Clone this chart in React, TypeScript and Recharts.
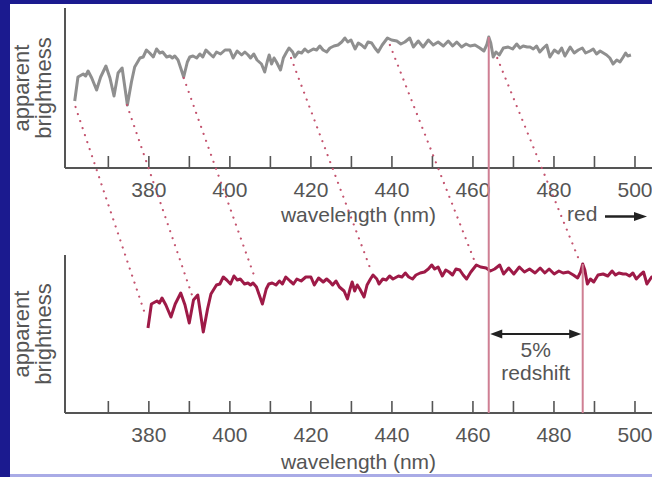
import React from "react";
import { LineChart, Line, XAxis, YAxis, Label, ReferenceLine } from "recharts";

// axis ticks (nm)
const TICKS_NM = [370, 380, 390, 400, 410, 420, 430, 440, 450, 460, 470, 480, 490, 500];
const LABELLED_NM = [380, 400, 420, 440, 460, 480, 500];
const X_DOMAIN: [number, number] = [359.3, 504.2];

// spectrum as seen in the top panel (nm, apparent brightness)
const EMITTED_NM = [
  361.7, 362.5, 363.8, 364.4, 365.0, 365.9, 367.1, 368.1, 369.4, 370.4, 371.4, 372.4, 373.4, 374.7,
  375.7, 376.5, 377.8, 378.6, 379.4, 380.2, 381.1, 381.9, 382.7, 383.4, 384.4, 385.2, 385.8, 386.4,
  387.2, 388.6, 389.5, 390.1, 390.9, 391.8, 392.6, 393.3, 394.1, 395.1, 395.9, 396.7, 397.7, 398.8,
  400.0, 400.8, 401.8, 402.9, 403.7, 404.5, 405.1, 405.9, 406.7, 407.8, 408.6, 409.2, 409.7, 410.3,
  410.9, 411.5, 412.5, 413.2, 414.0, 414.6, 415.5, 416.0, 416.9, 417.7, 418.5, 419.3, 420.6, 421.4,
  422.2, 423.0, 423.9, 424.7, 425.7, 426.7, 427.6, 428.4, 429.1, 429.9, 430.9, 431.7, 432.5, 433.3,
  434.1, 435.0, 435.8, 436.6, 437.6, 438.9, 439.9, 441.2, 442.2, 443.2, 444.4, 445.3, 446.5, 447.7,
  449.0, 450.2, 451.4, 452.7, 453.9, 455.0, 456.0, 457.2, 458.3, 459.3, 460.5, 461.7, 462.7, 463.4,
  463.9, 464.4, 465.0, 465.7, 466.5, 467.5, 468.7, 469.8, 470.8, 471.6, 472.4, 473.4, 474.1, 474.9,
  475.7, 476.5, 477.4, 478.2, 479.0, 480.1, 481.1, 481.9, 482.7, 484.0, 485.0, 486.0, 487.0, 487.8,
  488.9, 489.7, 490.5, 491.4, 492.2, 493.0, 493.8, 494.6, 495.5, 496.3, 497.1, 497.7, 498.2, 499.0,
];
const BRIGHTNESS = [
  67, 91, 94, 92, 97, 90, 78, 91, 102, 90, 72, 95, 100, 63,
  86, 101, 110, 111, 118, 115, 111, 119, 115, 116, 111, 112, 110, 112,
  108, 91, 106, 111, 112, 110, 114, 111, 118, 114, 111, 116, 114, 118,
  118, 110, 117, 113, 116, 113, 110, 114, 108, 104, 96, 106, 113, 104,
  110, 106, 98, 110, 116, 120, 116, 111, 116, 115, 119, 116, 119, 118,
  122, 118, 116, 120, 122, 123, 126, 130, 126, 128, 119, 125, 123, 120,
  126, 125, 120, 116, 123, 130, 128, 127, 124, 126, 130, 121, 127, 121,
  128, 123, 126, 122, 127, 122, 126, 121, 124, 122, 123, 120, 117, 123,
  131, 125, 111, 116, 113, 120, 121, 119, 124, 120, 122, 121, 121, 119,
  122, 116, 120, 123, 111, 118, 115, 120, 112, 121, 115, 118, 120, 115,
  117, 119, 114, 117, 115, 113, 110, 104, 108, 106, 111, 115, 112, 113,
];
const REDSHIFT = 0.05;

// dotted guides joining the same feature in both panels: [nm, brightness]
const GUIDE_TOP = [[361.9, 61], [374.6, 63], [388.6, 90], [415.1, 110], [439.5, 123], [466.0, 110]];
const GUIDE_BOTTOM = [[379.3, 78], [390.9, 97], [406.1, 118], [434.8, 125], [460.2, 136], [486.2, 135]];

// spike used to measure the shift
const MARKER_NM = 463.9;
const MARKER_PEAK = 131;
const ARROW_LEVEL = 61;

const topData = EMITTED_NM.map((nm, i) => ({ nm, b: BRIGHTNESS[i] }));
const bottomData = EMITTED_NM.map((nm, i) => ({ nm: nm * (1 + REDSHIFT), b: BRIGHTNESS[i] }));

// overlay is measured upward from the bottom axis; lift panels into it
const TOP_LIFT = 245;
const BOTTOM_LIFT = 18;

const FONT = "'Liberation Sans', Arial, Helvetica, sans-serif";
const TEXT = "#555";
const AXIS = "#555";

const renderTick = (props: any) => {
  const { x, y, payload } = props;
  const v = payload.value;
  return (
    <g>
      <line x1={x} x2={x} y1={y} y2={y - 12} stroke={AXIS} strokeWidth={1.6} />
      {LABELLED_NM.includes(v) && (
        <text x={x} y={y + 29} textAnchor="middle" fontSize={21} fontFamily={FONT} fill={TEXT}>
          {v}
        </text>
      )}
    </g>
  );
};

const renderYLabel = (props: any) => {
  const vb = props.viewBox || { x: 0, y: 0, height: 0 };
  const cy = vb.y + vb.height / 2;
  return (
    <text transform={`translate(29, ${cy}) rotate(-90)`} textAnchor="middle" fontSize={22} fontFamily={FONT} fill={TEXT}>
      <tspan x={0} y={0}>apparent</tspan>
      <tspan x={0} y={22}>brightness</tspan>
    </text>
  );
};

const xLabel = (withRed: boolean, dy: number) => (props: any) => {
  const vb = props.viewBox || { x: 0, y: 0, width: 0 };
  const right = vb.x + vb.width;
  return (
    <g>
      <text x={vb.x + vb.width / 2} y={vb.y + dy} textAnchor="middle" fontSize={21} fontFamily={FONT} fill={TEXT}>
        wavelength (nm)
      </text>
      {withRed && (
        <g>
          <text x={right - 85} y={vb.y + 53} fontSize={21} fontFamily={FONT} fill={TEXT}>red</text>
          <line x1={right - 47} x2={right - 16} y1={vb.y + 48.5} y2={vb.y + 48.5} stroke="#222" strokeWidth={2.5} />
          <polygon
            points={`${right - 18},${vb.y + 44} ${right - 5},${vb.y + 48.5} ${right - 18},${vb.y + 53}`}
            fill="#222"
          />
        </g>
      )}
    </g>
  );
};

const ArrowShape = (props: any) => {
  const { x1, y1, x2 } = props;
  const l = x1 + 1.5;
  const r = x2 - 1.5;
  const y = y1;
  const mid = (l + r) / 2;
  return (
    <g>
      <line x1={l + 8} x2={r - 8} y1={y} y2={y} stroke="#222" strokeWidth={2} />
      <polygon points={`${l},${y} ${l + 12},${y - 4.5} ${l + 12},${y + 4.5}`} fill="#222" />
      <polygon points={`${r},${y} ${r - 12},${y - 4.5} ${r - 12},${y + 4.5}`} fill="#222" />
      <text x={mid} y={y + 23} textAnchor="middle" fontSize={21} fontFamily={FONT} fill={TEXT}>5%</text>
      <text x={mid} y={y + 46} textAnchor="middle" fontSize={21} fontFamily={FONT} fill={TEXT}>redshift</text>
    </g>
  );
};

export default function App() {
  const shiftedMarker = MARKER_NM * (1 + REDSHIFT);
  return (
    <div style={{ position: "absolute", left: 0, top: 0, width: 652, height: 477, background: "#1b1a8f", overflow: "hidden" }}>
      <div style={{ position: "absolute", left: 10, top: 4, width: 642, height: 470, background: "#fff" }} />
      <div style={{ position: "absolute", left: 10, top: 474, width: 642, height: 3, background: "#a9abe6" }} />

      {/* ── rest spectrum ── */}
      <div style={{ position: "absolute", left: 0, top: 0 }}>
        <LineChart width={652} height={240} data={topData} margin={{ top: 8, right: 0, left: 0, bottom: 0 }}>
          <XAxis
            dataKey="nm"
            type="number"
            domain={X_DOMAIN}
            allowDataOverflow
            ticks={TICKS_NM}
            interval={0}
            height={72}
            tickSize={0}
            tickMargin={0}
            tickLine={false}
            tick={renderTick}
            axisLine={{ stroke: AXIS, strokeWidth: 2 }}
          >
            <Label content={xLabel(true, 54)} />
          </XAxis>
          <YAxis width={65} domain={[0, 160]} tick={false} tickLine={false} axisLine={{ stroke: AXIS, strokeWidth: 2 }}>
            <Label content={renderYLabel} />
          </YAxis>
          <Line dataKey="b" stroke="#8f8f8f" strokeWidth={3} dot={false} isAnimationActive={false} strokeLinejoin="round" />
        </LineChart>
      </div>

      {/* ── redshifted spectrum ── */}
      <div style={{ position: "absolute", left: 0, top: 240 }}>
        <LineChart width={652} height={237} data={bottomData} margin={{ top: 15, right: 0, left: 0, bottom: 0 }}>
          <XAxis
            dataKey="nm"
            type="number"
            domain={X_DOMAIN}
            allowDataOverflow
            ticks={TICKS_NM}
            interval={0}
            height={64}
            tickSize={0}
            tickMargin={0}
            tickLine={false}
            tick={renderTick}
            axisLine={{ stroke: AXIS, strokeWidth: 2 }}
          >
            <Label content={xLabel(false, 56)} />
          </XAxis>
          <YAxis width={65} domain={[-18, 140]} tick={false} tickLine={false} axisLine={{ stroke: AXIS, strokeWidth: 2 }}>
            <Label content={renderYLabel} />
          </YAxis>
          <Line dataKey="b" stroke="#9e1a47" strokeWidth={3} dot={false} isAnimationActive={false} strokeLinejoin="round" />
        </LineChart>
      </div>

      {/* ── guides overlay ── */}
      <div style={{ position: "absolute", left: 0, top: 0, pointerEvents: "none" }}>
        <LineChart width={652} height={477} margin={{ top: 8, right: 0, left: 65, bottom: 64 }}>
          <XAxis dataKey="x" type="number" domain={X_DOMAIN} hide />
          <YAxis type="number" domain={[0, 405]} hide />
          {GUIDE_TOP.map((t, i) => (
            <Line
              key={`g-${i}`}
              data={[
                { x: t[0], y: t[1] + TOP_LIFT },
                { x: GUIDE_BOTTOM[i][0], y: GUIDE_BOTTOM[i][1] + BOTTOM_LIFT },
              ]}
              dataKey="y"
              stroke="#c4546f"
              strokeWidth={2.2}
              strokeDasharray="0.01 7.4"
              strokeLinecap="round"
              dot={false}
              isAnimationActive={false}
            />
          ))}
          <Line
            data={[{ x: MARKER_NM, y: MARKER_PEAK + TOP_LIFT }, { x: MARKER_NM, y: 0 }]}
            dataKey="y"
            stroke="#cf7f93"
            strokeWidth={2}
            dot={false}
            isAnimationActive={false}
          />
          <Line
            data={[{ x: shiftedMarker, y: MARKER_PEAK + BOTTOM_LIFT }, { x: shiftedMarker, y: 0 }]}
            dataKey="y"
            stroke="#cf7f93"
            strokeWidth={2}
            dot={false}
            isAnimationActive={false}
          />
          <ReferenceLine
            segment={[
              { x: MARKER_NM, y: ARROW_LEVEL + BOTTOM_LIFT },
              { x: shiftedMarker, y: ARROW_LEVEL + BOTTOM_LIFT },
            ]}
            shape={ArrowShape}
          />
        </LineChart>
      </div>
    </div>
  );
}
